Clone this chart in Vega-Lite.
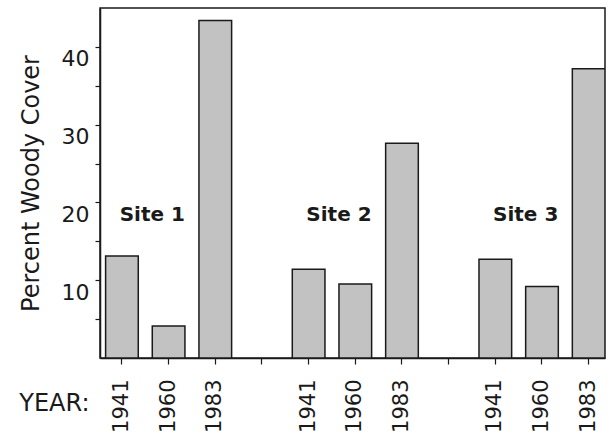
{
  "$schema": "https://vega.github.io/schema/vega-lite/v6.json",
  "autosize": "none",
  "width": 505,
  "height": 350,
  "padding": {"left": 100, "top": 8, "right": 6, "bottom": 76},
  "background": "white",
  "config": {
    "font": "DejaVu Sans",
    "view": {"stroke": "#1a1a1a", "strokeWidth": 1.5},
    "axis": {"domainColor": "#1a1a1a", "domainWidth": 1.5, "tickColor": "#1a1a1a", "tickWidth": 1.2, "labelColor": "#1a1a1a", "titleColor": "#1a1a1a", "grid": false, "labelFont": "DejaVu Sans", "titleFont": "DejaVu Sans", "titleFontWeight": "normal"}
  },
  "data": {
    "values": [
      {"site": "Site 1", "year": "1941", "slot": "1-1941", "cover": 13.1},
      {"site": "Site 1", "year": "1960", "slot": "1-1960", "cover": 4.1},
      {"site": "Site 1", "year": "1983", "slot": "1-1983", "cover": 43.4},
      {"site": "Site 2", "year": "1941", "slot": "2-1941", "cover": 11.4},
      {"site": "Site 2", "year": "1960", "slot": "2-1960", "cover": 9.5},
      {"site": "Site 2", "year": "1983", "slot": "2-1983", "cover": 27.6},
      {"site": "Site 3", "year": "1941", "slot": "3-1941", "cover": 12.7},
      {"site": "Site 3", "year": "1960", "slot": "3-1960", "cover": 9.2},
      {"site": "Site 3", "year": "1983", "slot": "3-1983", "cover": 37.2}
    ]
  },
  "encoding": {
    "x": {
      "field": "slot",
      "type": "nominal",
      "sort": null,
      "scale": {
        "domain": ["1-1941", "1-1960", "1-1983", "gap1", "2-1941", "2-1960", "2-1983", "gap2", "3-1941", "3-1960", "3-1983"],
        "paddingInner": 0.3,
        "paddingOuter": 0.06,
        "align": 1
      },
      "axis": {
        "title": "YEAR:",
        "titleFontSize": 24,
        "titleAngle": 0,
        "titleAlign": "right",
        "titleBaseline": "alphabetic",
        "titleX": -11,
        "titleY": 52,
        "labelAngle": -90,
        "labelAlign": "right",
        "labelBaseline": "middle",
        "labelFontSize": 21,
        "labelPadding": 15,
        "tickSize": 6,
        "labelExpr": "indexof(datum.value, '-') > 0 ? split(datum.value, '-')[1] : ''"
      }
    }
  },
  "layer": [
    {
      "mark": {"type": "bar", "fill": "#c2c2c2", "stroke": "#1a1a1a", "strokeWidth": 1.5, "clip": true},
      "encoding": {
        "y": {
          "field": "cover",
          "type": "quantitative",
          "scale": {"domain": [0, 45], "nice": false, "zero": true},
          "axis": {
            "title": "Percent Woody Cover",
            "titleFontSize": 24,
            "titleAngle": -90,
            "titleAlign": "center",
            "titleBaseline": "alphabetic",
            "titleX": -62,
            "titleY": 175,
            "values": [5, 10, 15, 20, 25, 30, 35, 40],
            "labelExpr": "datum.value % 10 === 0 ? datum.label : ''",
            "labelFontSize": 22,
            "labelPadding": 6,
            "labelOffset": 12,
            "tickSize": 5
          }
        }
      }
    },
    {
      "transform": [{"filter": "datum.year === '1960'"}],
      "mark": {"type": "text", "fontSize": 20, "fontWeight": "bold", "align": "center", "baseline": "middle", "color": "#1a1a1a"},
      "encoding": {
        "x": {"field": "slot", "type": "nominal", "sort": null, "bandPosition": 0},
        "y": {"datum": 18.4, "type": "quantitative"},
        "text": {"field": "site"}
      }
    }
  ]
}
